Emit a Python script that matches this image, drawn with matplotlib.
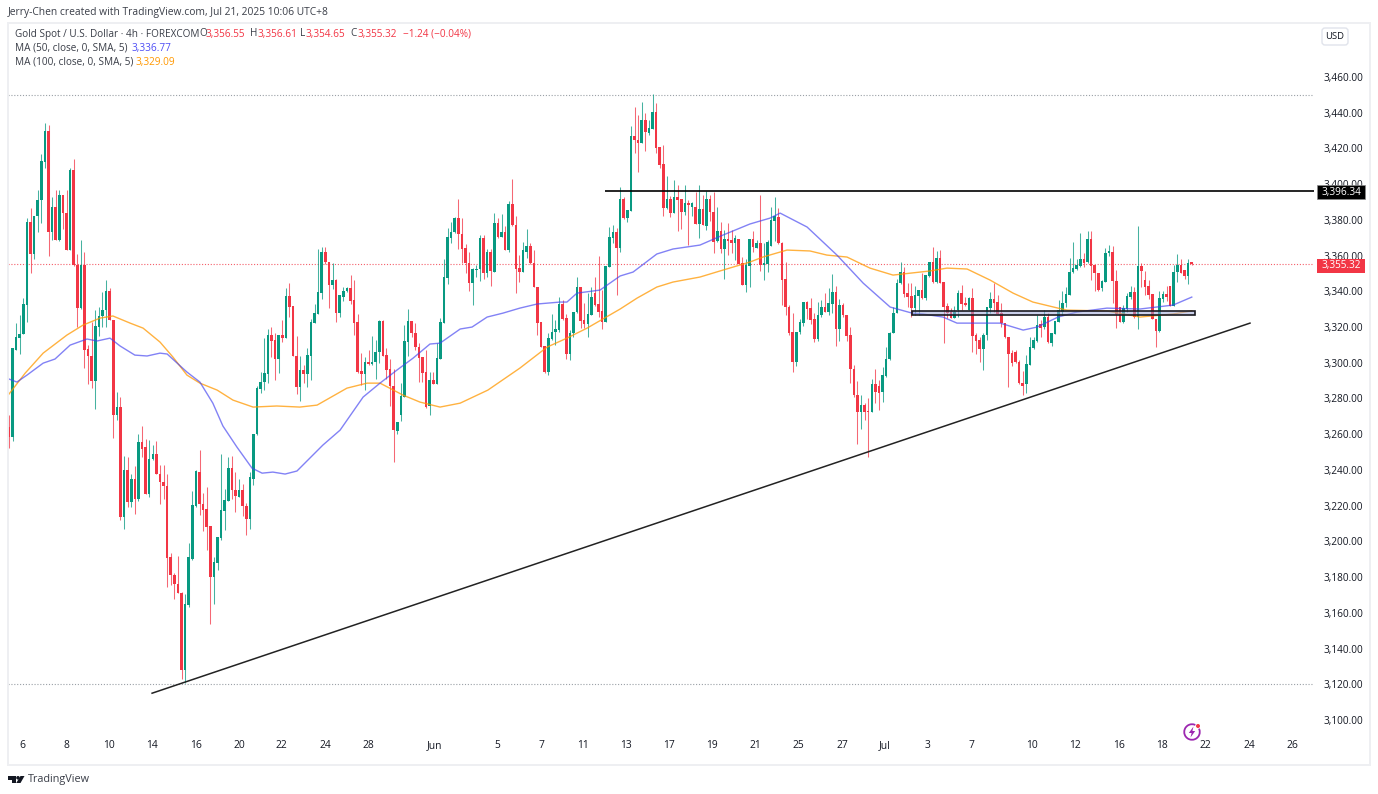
import matplotlib
matplotlib.use('Agg')
import matplotlib.pyplot as plt
from matplotlib.patches import Circle, Polygon, Rectangle, FancyBboxPatch, Arc

plt.rcParams['font.family'] = ['Open Sans', 'DejaVu Sans']

opens = [
    3264,3258.5,3307,3314,3316,3332.5,3379,3361,3382,3391,
    3412.5,3430,3373,3387,3369,3394,3384,3363,3408,3354.5,
    3330.5,3355,3307.5,3304,3290,3320,3326,3329.5,3340,3324,
    3270.5,3275.5,3213.7,3240,3222,3234.7,3224,3255.6,3252.6,3226.5,
    3246,3249,3238,3233,3231,3191,3181,3176,3171,3127.9,
    3164.3,3190.4,3220,3239,3221,3218,3208.5,3180,3188,3202,
    3217,3222.7,3241,3229,3225,3229,3220,3212.3,3235.2,3260,
    3285.4,3289,3293.6,3315.5,3312.7,3302.2,3315.5,3314,3337.3,3331.7,
    3304,3286.5,3295.9,3293.6,3304,3322.4,3327.3,3338.8,3362,3356.7,
    3343.5,3346.3,3327.6,3337,3340,3341.6,3335,3322.8,3295.5,3293.6,
    3300.7,3299.2,3300.4,3306,3323.5,3304.5,3296.3,3286.9,3262,3271,
    3281,3311.6,3323.5,3316.8,3309,3303,3294.8,3275.7,3290.3,3288,
    3302.2,3322.4,3347.4,3369.8,3373.2,3380.8,3372,3364.2,3356,3344.8,
    3352,3352.3,3369.8,3350,3362,3351,3378.4,3370.2,3373.2,3363,
    3388.9,3377,3353,3351,3362.3,3365.3,3356,3342.6,3322.8,3309.3,
    3295.1,3313.4,3317.2,3318.3,3332.8,3325,3304.8,3316.4,3328.3,3342.6,
    3323.9,3321.6,3326.9,3339.2,3332.8,3329.1,3322.8,3353.8,3369.8,3373.4,
    3364.2,3391.5,3381,3385.1,3426.9,3425,3422.8,3435.9,3428.8,3431,
    3440.4,3420.6,3411.3,3386.4,3391.8,3383.8,3392.6,3391.5,3384.4,3389.6,
    3387,3387,3377.6,3386.2,3376.5,3391.5,3384.4,3368.3,3373.9,3363.5,
    3369.4,3368.7,3367.2,3369.4,3355.6,3343.7,3354.1,3369.4,3364,3367.2,
    3354.5,3355.2,3365.3,3379.5,3381.8,3367.2,3346.8,3331.4,3317.2,3300.7,
    3317.2,3322.4,3334,3330.6,3324.3,3313.4,3326.5,3331,3328.7,3332.8,
    3339.9,3318.7,3332.1,3326.9,3315.5,3296.6,3282.1,3272.7,3276.5,3273,
    3272.7,3288,3287,3283.6,3292.5,3301.9,3316.4,3327.6,3344.4,3350.8,
    3338.8,3337.3,3330.6,3337.3,3340.7,3336.2,3348.5,3356.7,3345.4,3358.6,
    3345.2,3331.7,3328.6,3325,3329.5,3339.2,3333.6,3329.5,3336.2,3315.3,
    3312.7,3307.8,3315.3,3330.6,3335.8,3334,3327.6,3322,3314.6,3305.2,
    3306,3300.4,3288.4,3288,3298.9,3308.2,3312.3,3321.5,3319.8,3325.4,
    3311.2,3316,3323.1,3328.6,3333.2,3338,3350.6,3352.3,3354.1,3357.9,
    3356.6,3369.3,3354.7,3350.4,3341.6,3345.4,3361.2,3362.3,3345.9,3331,
    3323,3329.9,3337,3339.6,3325.4,3354.3,3346.3,3343.1,3338.4,3324.6,
    3317.9,3335.8,3338.4,3342.9,3331.7,3350.8,3354.5,3351.9,3348.5,3356.55,
]
highs = [
    3271,3308,3322,3327,3336.5,3381,3386.5,3382,3397,3417,
    3434,3433,3393,3397,3397,3394,3397,3409,3414,3361,
    3369,3362,3310,3323,3329.5,3331,3339.5,3346.5,3342,3324,
    3283.5,3281,3247.7,3247,3237.6,3242,3260,3264.5,3257.4,3257,
    3254,3256,3242.5,3242.5,3238,3193.6,3182.4,3191.7,3171.5,3170.4,
    3199,3228.3,3240,3251,3227,3230.5,3208.5,3191.4,3202.5,3249,
    3229.6,3247,3247.7,3239,3235,3232,3221.6,3238.8,3260.4,3287,
    3294.8,3313.6,3318.7,3319.8,3316.4,3315.5,3324,3342,3344.4,3331.7,
    3315,3304,3298.5,3308.4,3324.6,3333,3363.5,3365,3365,3356.7,
    3355.6,3346.7,3337.7,3342.6,3342.6,3349,3346.3,3327.2,3305.2,3303.3,
    3307,3315,3312.7,3323.9,3323.9,3308,3301.9,3296.3,3267,3288.4,
    3321,3329.9,3323.5,3322.4,3311.2,3303.3,3307.4,3294.8,3294.8,3310.8,
    3324.8,3358.2,3375.2,3378.8,3381.8,3391.5,3380.8,3366.5,3362.3,3352.8,
    3354.7,3371.3,3371.3,3363.8,3363.5,3384,3380.8,3383.3,3376.5,3390.3,
    3402.7,3382,3360.3,3367.8,3374.7,3366.8,3363,3342.6,3323.1,3309.3,
    3316.4,3327.2,3323.9,3337,3335,3327.2,3318.3,3328.7,3347.8,3342.6,
    3333.2,3339.2,3342.2,3347.8,3359.7,3340.7,3354.1,3376.2,3377,3375.2,
    3398.2,3392.6,3385.5,3432.5,3443.4,3438.7,3446,3439.6,3436,3450.5,
    3445.6,3420.6,3421.9,3404.5,3393.3,3402.3,3399.7,3391.5,3399.3,3391.1,
    3390,3395.6,3399.3,3393.7,3396,3393.9,3395.6,3387.4,3378.8,3374.3,
    3378,3374.3,3371.3,3369.4,3359.3,3358.2,3369.4,3373.5,3368.7,3393.7,
    3367.2,3369,3387,3392.6,3386.4,3367.8,3356.6,3332.5,3327.6,3317.4,
    3324.3,3334,3334.7,3336.2,3327.6,3334.3,3335,3338.8,3341.8,3349.6,
    3342.9,3335.5,3333.2,3326.9,3320.1,3298.9,3290,3281.7,3277.6,3280,
    3290.7,3296.3,3290.3,3297.4,3308.6,3317.2,3331.4,3347,3356.7,3353.8,
    3344.4,3344.4,3342.9,3341,3350.4,3349.3,3356.7,3364.6,3362.7,3363.1,
    3345.2,3333.6,3330.4,3332,3341,3343.5,3337,3337,3341.6,3316.4,
    3314.2,3316.4,3331.4,3339.6,3344.8,3337.9,3333.2,3322.4,3314.6,3307,
    3307,3301.5,3295.5,3304.3,3314.5,3314.2,3326.7,3323.9,3329.5,3327.6,
    3316.8,3323.5,3335,3340.3,3342.6,3358.4,3367.8,3357.9,3372.8,3361.2,
    3373.7,3373.7,3354.7,3350.4,3346.5,3364,3365.9,3365.3,3351.9,3331,
    3332.3,3339.2,3343,3342.6,3376.5,3356,3351.5,3346.3,3338.4,3324.6,
    3340.3,3340.3,3342.9,3342.9,3354.7,3360.7,3357.9,3351.9,3357.9,3356.61,
]
lows = [
    3252.5,3256,3307,3305,3316,3323,3350,3358,3373,3378,
    3409,3360,3369,3369,3368,3375,3363,3363,3354,3320,
    3330,3297,3288,3286,3274,3315,3320,3320,3324,3258,
    3268,3212,3207,3219,3219,3215.6,3222.7,3247,3226.5,3225,
    3245.5,3237.6,3221,3223.5,3174.5,3175.5,3168,3171,3123,3120.8,
    3163.3,3189.5,3219.4,3214.5,3206,3195,3154,3165,3184,3200.7,
    3206.3,3222.7,3224,3216.7,3225,3214,3203.7,3207,3231.7,3259.7,
    3283,3284.7,3288.4,3303.3,3290.3,3294.4,3311.6,3314,3325.8,3303.7,
    3282.4,3278.7,3288.4,3286.5,3290.3,3322,3327.3,3335.8,3355.3,3330.6,
    3341.4,3322.8,3325.4,3334.7,3339.6,3332.8,3315.3,3294.4,3287.5,3284.7,
    3298.9,3299,3290.7,3299.6,3304,3291,3276,3244.7,3260.4,3267.5,
    3281,3304,3314.5,3307,3289.3,3289.3,3274.6,3270.9,3288,3288,
    3302.2,3322.4,3344,3367,3372.4,3363.8,3355.6,3350.4,3340.3,3332.5,
    3348,3346,3346.7,3348,3343,3351,3369.6,3370.2,3363,3362.3,
    3376.5,3339.2,3345.4,3351,3358.6,3355.2,3342.2,3315.7,3308.6,3294.4,
    3292.9,3312.7,3309.7,3317.4,3323.9,3302.2,3301.5,3314.5,3327.6,3319.4,
    3319.4,3314.5,3326.9,3331.7,3325.4,3319,3322.8,3353.8,3367,3338,
    3362,3380.6,3378.8,3385.1,3417.2,3407,3422.8,3418.7,3427.5,3431,
    3417.2,3408.8,3382.1,3385.9,3381.8,3383.8,3373.5,3374.7,3382.5,3365.7,
    3382,3377.6,3369.8,3376.9,3374.3,3379.5,3361.6,3367.6,3361.2,3347,
    3360.5,3361.2,3357.5,3355.2,3343.3,3339.6,3342.6,3362,3364,3351.5,
    3346.3,3350.8,3365.3,3368.3,3366.4,3332.3,3326.5,3315.7,3294.8,3298.1,
    3316,3320.5,3324.6,3321.6,3311.6,3312,3325.8,3328.4,3326.5,3328,
    3309.3,3312,3325.8,3312.3,3288.8,3281,3254.8,3263,3267.9,3247.3,
    3272.7,3277.2,3273.5,3278.3,3292.2,3301.5,3316.4,3327.6,3344,3336.6,
    3331.4,3325.4,3326.9,3326.9,3335.8,3335,3348,3344.8,3344.4,3344.4,
    3311.2,3324.8,3324.8,3324.8,3325.4,3329.5,3331.7,3329.5,3306.2,3304.8,
    3300.6,3295.9,3312.7,3328,3328.6,3327.3,3320,3313.8,3286.5,3298.1,
    3299.6,3288,3281.9,3282.8,3298.9,3307.8,3311.8,3314.2,3319,3311.2,
    3309.3,3316,3322.8,3326.7,3331.4,3337.7,3350.4,3351.9,3353.8,3353.8,
    3356,3346.3,3340.3,3340.3,3340,3345.2,3360,3333.6,3319.2,3323,
    3322.4,3328.6,3335.5,3324.8,3319,3342.6,3337.9,3335.5,3324.3,3309,
    3317.5,3334.2,3334.7,3331.7,3331.7,3345.4,3350,3346.7,3344,3354.65,
]
closes = [
    3258.5,3308,3314.5,3316,3333,3379,3361,3382,3391,3413,
    3430,3373,3387,3369,3394,3384,3363,3408,3354.5,3330.5,
    3355,3307,3304,3290,3320.5,3326,3329.5,3340,3324,3270.5,
    3275.5,3213.7,3240,3222,3234.7,3224,3255.6,3252,3226.5,3246,
    3249,3237.6,3233,3231,3190.6,3181,3176,3171,3127.9,3165,
    3191.3,3220.3,3239.5,3221,3217.5,3208,3180,3188.4,3202.5,3217.5,
    3223,3241,3228.7,3225.3,3229,3219.7,3212.3,3235.8,3260.4,3285.6,
    3289,3294,3315.5,3312.3,3302.2,3315.5,3314,3337.3,3331.4,3303.7,
    3286.5,3295.9,3293.6,3304.3,3322.8,3327.6,3339.6,3362,3356.4,3343.5,
    3346.3,3327.6,3337.7,3340.3,3341.6,3334.7,3322.4,3295.1,3293.6,3300.4,
    3299.2,3300.7,3306.3,3323.5,3304,3295.9,3286.9,3262.3,3266.8,3281.3,
    3312,3323.5,3316.4,3308.6,3302.4,3294.4,3275.3,3290.3,3288,3302.4,
    3322.8,3347.8,3370.2,3373.4,3380.8,3372,3363.8,3355.6,3344.8,3352.3,
    3352.6,3369.8,3350,3362,3351.5,3378.4,3370.6,3373.2,3363,3388.9,
    3377,3352.6,3351,3363,3365.3,3355.6,3342.2,3322.4,3309,3294.8,
    3313.8,3317.5,3318.7,3332.8,3324.6,3304.8,3316.8,3328.7,3342.6,3323.5,
    3321.6,3327.2,3337,3332.5,3328.7,3322.8,3354.1,3370.2,3373.4,3364.2,
    3391.5,3381,3385.5,3426.9,3424.7,3423.2,3435.9,3429.2,3431.4,3440.4,
    3420.2,3410.7,3386.4,3391.8,3383.6,3392.6,3391.1,3384.4,3389.2,3388.5,
    3389.2,3377.6,3385.9,3376.9,3391.5,3384.4,3367.6,3373.9,3363.5,3369.4,
    3368.3,3367.2,3369.8,3355.2,3343.7,3354.5,3369.4,3365,3367.2,3354.5,
    3356,3367.6,3379.9,3382.1,3367.2,3346.3,3331.4,3316.8,3300.7,3317.4,
    3322.8,3334,3330.2,3323.9,3313.4,3326.9,3331,3328.7,3333.2,3339.9,
    3318.7,3332.1,3326.5,3315,3296.3,3281.7,3272.7,3276.5,3272.7,3272.7,
    3288,3283.6,3283.2,3292.9,3302.2,3316.8,3328,3344.8,3350.8,3338.5,
    3337,3330.6,3338,3341,3336.2,3349.3,3356.7,3345.4,3358.6,3344.8,
    3331.4,3327.6,3325,3328.6,3339.2,3332.9,3332.5,3336.2,3315,3312.3,
    3307.8,3315.7,3331,3335.8,3333.6,3327.3,3322,3314.2,3304.8,3300,
    3300.6,3288.4,3287,3299.2,3308.6,3312.7,3321.1,3319.6,3325.8,3311.6,
    3316.4,3323.5,3329.5,3333.6,3338.4,3351,3352.8,3354.5,3357.9,3356,
    3369.3,3354.3,3350,3341,3345.9,3361.6,3362.7,3345.9,3327.2,3323,
    3330.4,3337.3,3339.6,3325.4,3354.3,3351.2,3342.6,3337.7,3324.3,3317.9,
    3336.2,3338.4,3336.6,3331.7,3351,3354.5,3350.4,3348.5,3355.6,3355.32,
]

# moving averages, bar number and price
ma50_bar = [0,2.2,5,9.5,12.8,17,21.7,24.5,28.1,30.9,35,38.4,42,44,49.5,53.1,56.7,59.5,63.4,67.6,
            70.4,73.4,76.8,80.1,87.3,92.1,98.5,103.2,107.9,112.4,117.1,119.9,125.5,128.8,133,137.4,
            142.1,146.9,153.3,155.2,158,164.4,170,173.6,180.2,184.7,192.2,198.6,206.1,211.7,214.5,
            222,230.3,237.6,245.1,251.2,254.2,259.8,263.7,269.3,275.7,282.1,286,291.8,297.1,305.4,
            314.6,323.8,329]
ma50_val = [3290.9,3289.2,3293.1,3299.8,3302.1,3309.9,3313.3,3312.2,3313.8,3309.4,3304.3,3303.8,3305.4,
            3304.9,3294.8,3289.2,3277.4,3264.6,3252.8,3241,3238.2,3238.8,3237.7,3239.4,3253.9,3262.3,
            3280.8,3288.6,3295.9,3302.6,3310.5,3311,3318.9,3320,3325.6,3327.8,3330.6,3332.9,3334,3334,
            3339,3340.7,3348.6,3350.8,3360.9,3363.7,3365.9,3371.5,3377.7,3381,3383.8,3376,3360.3,
            3344.6,3331.2,3327.8,3327.3,3325.6,3322.2,3322.2,3322.2,3318.3,3320,3325.6,3328.4,3330.6,
            3330.1,3332.3,3336.77]
ma100_bar = [0,4.5,9.5,16.1,20.6,25.3,28.9,33.7,37.3,42,45.6,49.5,53.1,57.9,62.3,67.9,74.5,80.9,85.7,
             94,99.6,103.2,109.6,114.3,119.9,125.5,133.2,142.1,149.7,155.2,160.8,170,174.7,180.2,184.7,
             192.2,198.6,206.1,209.7,216.4,222.8,227.5,233.1,239.5,245.9,256.2,260.9,266.5,272.9,279.3,
             284.8,291.8,294.3,305.4,314.6,323.8,329]
ma100_val = [3282.5,3294.2,3305.4,3315.5,3321.1,3325,3326.2,3322.2,3319.4,3311.6,3303.2,3293.1,3288.6,
             3284.7,3279.1,3275.2,3275.8,3275.2,3276.3,3285.8,3288.6,3288.6,3281.9,3278,3275.2,3277.4,
             3284.7,3297,3308.8,3313.8,3319.4,3330.1,3336.2,3342.4,3345.2,3348,3351.9,3356.4,3359.2,
             3363.1,3362.6,3360.3,3359.2,3353,3349.1,3351.4,3353,3352.5,3346.3,3339,3334,3330.6,3329.5,
             3329,3325.6,3327.3,3329.09]

date_labels = ['6','8','10','14','16','20','22','24','28','Jun','5','7','11','13','17','19','21','25','27',
               'Jul','3','7','10','12','16','18','22','24','26']
date_bars = [3.6,15.9,27.8,39.8,52,64,75.9,87.9,99.9,118.5,135.7,148,159.7,171.6,183.6,195.5,207.5,219.5,
             231.7,243.7,255.6,267.6,284.6,296.5,308.8,320.7,332.7,344.9,356.9]
price_ticks = list(range(3100, 3480, 20))

last_close = 3355.32
resistance = 3396.34
green = '#089981'
red = '#f23645'
text_col = '#131722'

fig = plt.figure(figsize=(13.78, 7.94), dpi=100)
fig.patch.set_facecolor('white')

W, H = 1378.0, 794.0
ax = fig.add_axes([8/W, 1-765/H, (1314-8)/W, (765-23)/H])
ax.set_xlim((8-9)/3.595, (1314-9)/3.595)
ax.set_ylim(3460-(765-77)*0.55988, 3460+(77-23)*0.55988)

bars = range(len(closes))
cols = [green if c >= o else red for o, c in zip(opens, closes)]
ax.vlines(bars, lows, highs, colors=cols, linewidth=0.75, alpha=0.75, zorder=2)
ax.bar(bars, [max(abs(c-o), 0.5) for o, c in zip(opens, closes)],
       bottom=[min(o, c) for o, c in zip(opens, closes)], width=0.72, color=cols, linewidth=0, zorder=3)

ax.plot(ma100_bar, ma100_val, color='#ff9800', lw=1.0, alpha=0.75, zorder=4)
ax.plot(ma50_bar, ma50_val, color='#3f3ff0', lw=1.0, alpha=0.65, zorder=4)

# dotted levels
dots = (0, (1, 1.6))
ax.axhline(3450, color='#9aa0a6', lw=0.8, ls=dots, zorder=1, xmax=1)
ax.axhline(3120, color='#9aa0a6', lw=0.8, ls=dots, zorder=1)
ax.axhline(last_close, color=red, lw=0.8, ls=dots, alpha=0.8, zorder=1)

# drawings
ax.plot([165.8, 363], [resistance, resistance], color='black', lw=1.2, zorder=5, solid_capstyle='butt')
ax.plot([39.8, 345.2], [3115, 3322.2], color='#222222', lw=1.1, zorder=5)
ax.add_patch(Rectangle((251.2, 3326.7), 78.7, 2.5, facecolor='#9fa8da', alpha=0.55, edgecolor='none', zorder=5))
ax.add_patch(Rectangle((251.2, 3326.7), 78.7, 2.5, facecolor='none', edgecolor='#1b1b22', lw=1.2, zorder=6))

for s in ax.spines.values():
    s.set_visible(False)
ax.set_xticks(date_bars)
ax.set_xticklabels(date_labels)
ax.tick_params(axis='x', length=0, pad=-18, labelsize=7.4, labelcolor=text_col)
ax.yaxis.tick_right()
ax.set_yticks(price_ticks)
ax.set_yticklabels([f'{p:,.2f}' for p in price_ticks])
ax.tick_params(axis='y', length=0, pad=6.5, labelsize=7.2, labelcolor=text_col)

# page furniture, drawn in pixel coordinates
ov = fig.add_axes([0, 0, 1, 1], zorder=10)
ov.set_xlim(0, W)
ov.set_ylim(H, 0)
ov.axis('off')
ov.patch.set_alpha(0)

ov.add_patch(Rectangle((7.5, 22.5), 1362, 742.5, facecolor='none', edgecolor='#eeeff2', lw=1.4))

def t(x, y, s, color=text_col, size=7.2, **kw):
    ov.text(x, y, s, color=color, fontsize=size, va='center', ha=kw.pop('ha', 'left'), **kw)

t(8, 12, 'Jerry-Chen created with TradingView.com, Jul 21, 2025 10:06 UTC+8', '#3a3e48', 7.4)
t(15, 34, 'Gold Spot / U.S. Dollar · 4h · FOREXCOM', '#3a3e48', 7.2)
t(199, 34, 'O', '#3a3e48')
t(206, 34, '3,356.55', red)
t(250, 34, 'H', '#3a3e48')
t(257, 34, '3,356.61', red)
t(300, 34, 'L', '#3a3e48')
t(306, 34, '3,354.65', red)
t(350, 34, 'C', '#3a3e48')
t(357, 34, '3,355.32', red)
t(403, 34, '−1.24 (−0.04%)', red)
t(15, 48, 'MA (50, close, 0, SMA, 5)', '#3a3e48')
t(131, 48, '3,336.77', '#4d4df5')
t(15, 62, 'MA (100, close, 0, SMA, 5)', '#3a3e48')
t(136, 62, '3,329.09', '#ff9800')

ov.add_patch(FancyBboxPatch((1322, 28), 26, 17, boxstyle='round,pad=0,rounding_size=3',
                            facecolor='white', edgecolor='#e0e3eb', lw=1))
t(1335, 36.5, 'USD', text_col, 6.8, ha='center')

ov.add_patch(Rectangle((1317, 185), 48, 14, facecolor='black', edgecolor='#8a8a8a', lw=0.5))
t(1341, 192, '3,396.34', 'white', 7.2, ha='center')
ov.add_patch(Rectangle((1317, 259), 48, 13.5, facecolor=red, edgecolor='none'))
t(1341, 265.5, '3,355.32', 'white', 7.2, ha='center')

# TradingView logo
ov.add_patch(Polygon([(8, 776), (15.5, 776), (15.5, 783), (11.5, 783), (11.5, 779.5), (8, 779.5)], color='#131722', lw=0))
ov.add_patch(Circle((18, 777.8), 1.8, color='#131722', lw=0))
ov.add_patch(Polygon([(20.5, 776), (24.5, 776), (20.5, 783), (16.2, 783)], color='#131722', lw=0))
t(27.5, 779.5, 'TradingView', '#3a3e48', 7.8)

# lightning badge
ov.add_patch(Arc((1192, 732), 15.5, 15.5, theta1=0, theta2=360, color='#9c27b0', lw=1.3))
ov.add_patch(Polygon([(1193.5, 726.5), (1188.8, 733), (1191.6, 733), (1190.5, 737.5), (1195.2, 731), (1192.4, 731)],
                     color='#9c27b0', lw=0))
ov.add_patch(Circle((1198, 726), 2.9, color='white', lw=0))
ov.add_patch(Circle((1198, 726), 2.0, color=red, lw=0))

fig.savefig('out.png', dpi=100)
